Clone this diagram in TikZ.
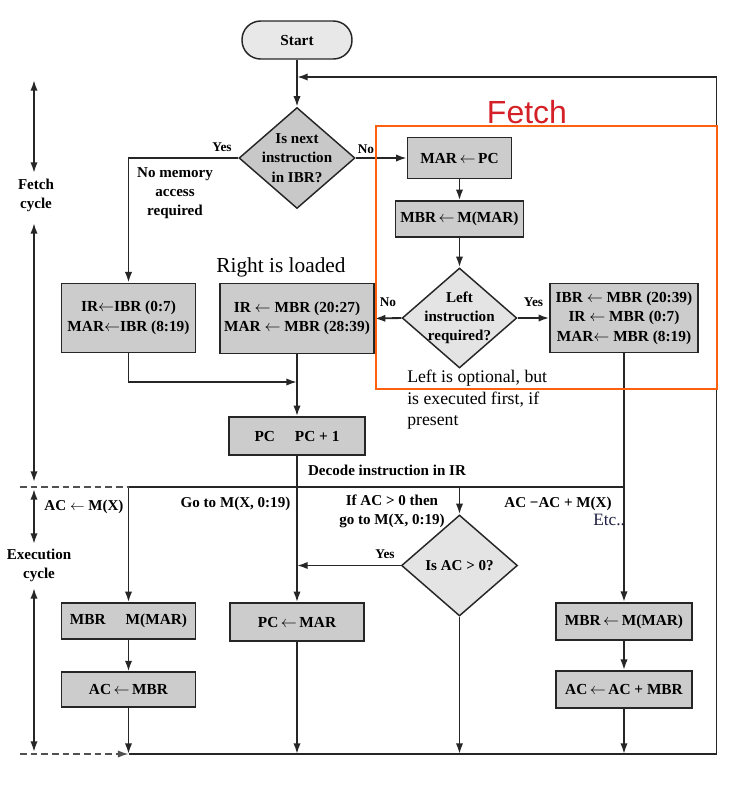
\documentclass[tikz,border=0pt]{standalone}
\usepackage{fontspec}
\setmainfont{Liberation Serif}
\newfontfamily\fetchfont{Liberation Sans}
\usetikzlibrary{arrows.meta,shapes.geometric}
\definecolor{boxgray}{HTML}{CCCCCC}
\definecolor{dgray}{HTML}{C8C8C8}
\definecolor{lgray}{HTML}{E4E4E4}
\definecolor{startgray}{HTML}{E8E8E8}
\definecolor{linec}{HTML}{262626}
\definecolor{fetchred}{RGB}{212,32,39}
\definecolor{orng}{RGB}{255,96,16}
\definecolor{etcblue}{HTML}{1C1C40}
\begin{document}
\begin{tikzpicture}[x=0.75pt,y=-0.75pt,
 conn/.style={draw=linec,line width=1.4pt},
 arr/.style={conn,-{Latex[length=8pt,width=5.5pt]}},
 darr/.style={conn,{Latex[length=8pt,width=5.5pt]}-{Latex[length=8pt,width=5.5pt]}},
 dashline/.style={draw=linec!80,line width=1.1pt,dash pattern=on 5pt off 3pt},
 box/.style={draw=linec,line width=1.1pt,fill=boxgray,inner sep=2pt,align=center,font=\bfseries\fontsize{11.5}{14.6}\selectfont},
 dia/.style={diamond,draw=linec,line width=1.1pt,inner sep=0pt},
 lbl/.style={inner sep=0pt,align=center,font=\bfseries\fontsize{11.3}{14.4}\selectfont},
 slbl/.style={inner sep=0pt,font=\bfseries\fontsize{10}{12}\selectfont},
 note/.style={inner sep=0pt,align=left},
]
\useasboundingbox (0,0) rectangle (746,794);

% nodes
\node[box,fill=startgray,rounded corners=14pt,minimum width=82.5pt,minimum height=28.5pt] (start) at (297,40) {Start};
\node[dia,fill=dgray,minimum width=87pt,minimum height=75.75pt] (d1) at (297,158) {};
\node[lbl] (d1t) at (297,158) {Is next\\instruction\\in IBR?};
\node[box,minimum width=78pt,minimum height=31pt] (marpc) at (459.5,158) {MAR\,$\leftarrow$\,PC};
\node[box,minimum width=96pt,minimum height=27pt] (mbrm) at (459.5,219) {MBR\,$\leftarrow$\,M(MAR)};
\node[dia,fill=lgray,minimum width=86pt,minimum height=75pt] (d2) at (459.5,318) {};
\node[lbl] (d2t) at (459.5,318) {Left\\instruction\\required?};
\node[box,minimum width=111pt,minimum height=52pt] (rbox) at (624,318) {IBR $\leftarrow$ MBR (20:39)\\IR $\leftarrow$ MBR (0:7)\\MAR$\leftarrow$ MBR (8:19)};
\node[box,minimum width=100.5pt,minimum height=52pt] (b1) at (128.5,318) {IR$\leftarrow$IBR (0:7)\\MAR$\leftarrow$IBR (8:19)};
\node[box,minimum width=115.5pt,minimum height=52.5pt] (b2) at (297,318.5) {IR $\leftarrow$ MBR (20:27)\\MAR $\leftarrow$ MBR (28:39)};
\node[box,minimum width=102pt,minimum height=28.5pt] (pc) at (297,436) {PC\hspace{1.3em}PC + 1};
\node[box,minimum width=100.5pt,minimum height=27pt] (lm) at (128.5,621) {MBR\hspace{1.3em}M(MAR)};
\node[box,minimum width=100.5pt,minimum height=26pt] (lac) at (128.5,689.5) {AC\,$\leftarrow$\,MBR};
\node[box,minimum width=100.5pt,minimum height=28.5pt] (pcmar) at (297,622) {PC\,$\leftarrow$\,MAR};
\node[dia,fill=lgray,minimum width=87pt,minimum height=75.75pt] (d3) at (459.5,565.5) {};
\node[lbl] (d3t) at (459.5,565.5) {Is AC > 0?};
\node[box,minimum width=102pt,minimum height=28pt] (rm) at (624,621.5) {MBR\,$\leftarrow$\,M(MAR)};
\node[box,minimum width=102pt,minimum height=28pt] (rac) at (624,689.5) {AC\,$\leftarrow$\,AC + MBR};

% coordinates
\coordinate (loopTR) at (716.5,77);
\coordinate (loopBR) at (716.5,754);
\coordinate (join0) at (297,77);
\coordinate (join1) at (297,382);
\coordinate (decL) at (128.5,487);
\coordinate (decR) at (624,487);
\coordinate (decM) at (459.5,487);
\coordinate (yesJ) at (297,565.5);
\coordinate (botL) at (128.5,754);
\coordinate (botM) at (297,754);
\coordinate (botD) at (459.5,754);
\coordinate (botR) at (624,754);
\coordinate (dashT) at (20,487);
\coordinate (dashB) at (20,754);
\coordinate (ax1a) at (34,80);
\coordinate (ax1b) at (34,173);
\coordinate (ax2a) at (34,223);
\coordinate (ax2b) at (34,482);
\coordinate (ax3a) at (34,489);
\coordinate (ax3b) at (34,544);
\coordinate (ax4a) at (34,588);
\coordinate (ax4b) at (34,752);

% connectors
\draw[arr] (start) -- (d1);
\draw[arr] (botL) -- (loopBR) -- (loopTR) -- (join0);
\draw[arr] (d1.west) -| (b1.north);
\draw[arr] (d1.east) -- (marpc.west);
\draw[arr] (marpc) -- (mbrm);
\draw[arr] (mbrm) -- (d2);
\draw[arr] (d2.west) -- (b2.east);
\draw[arr] (d2.east) -- (rbox.west);
\draw[arr] (b1.south) |- (join1);
\draw[arr] (b2) -- (pc);
\draw[arr] (pc) -- (pcmar);
\draw[arr] (rbox) -- (rm);
\draw[conn] (decL) -- (decR);
\draw[arr] (decL) -- (lm);
\draw[arr] (decM) -- (d3);
\draw[arr] (d3.west) -- (yesJ);
\draw[arr] (lm) -- (lac);
\draw[arr] (lac) -- (botL);
\draw[arr] (pcmar) -- (botM);
\draw[arr] (d3) -- (botD);
\draw[arr] (rm) -- (rac);
\draw[arr] (rac) -- (botR);
\draw[dashline] (dashT) -- (decL);
\draw[dashline,-{Latex[length=8pt,width=5.5pt]}] (dashB) -- (botL);
\draw[darr] (ax1a) -- (ax1b);
\draw[darr] (ax2a) -- (ax2b);
\draw[darr] (ax3a) -- (ax3b);
\draw[darr] (ax4a) -- (ax4b);

% labels
\node[slbl] (yes1) at (222,147) {Yes};
\node[slbl] (no1) at (366,149) {No};
\node[lbl] (nomem) at (175,193) {No memory\\access\\required};
\node[slbl] (no2) at (388,302) {No};
\node[slbl] (yes2) at (533.5,302) {Yes};
\node[lbl] (fcyc) at (36,195) {Fetch\\cycle};
\node[lbl] (ecyc) at (39,565) {Execution\\cycle};
\node[lbl,anchor=base] (decode) at (387,475) {Decode instruction in IR};
\node[lbl,anchor=base] (acmx) at (84,510) {AC $\leftarrow$ M(X)};
\node[lbl,anchor=base] (goto) at (235.5,507) {Go to M(X, 0:19)};
\node[lbl] (ifac) at (392,511) {If AC > 0 then\\go to M(X, 0:19)};
\node[slbl] (yes3) at (385,554) {Yes};
\node[lbl,anchor=base] (acadd) at (558,507) {AC −AC + M(X)};
\node[inner sep=0pt,anchor=base,font=\fontsize{16}{19}\selectfont] (right) at (281,272) {Right is loaded};
\node[note,anchor=north west,font=\fontsize{13.3}{16}\selectfont] (leftopt) at (407,370) {Left is optional, but\\is executed first, if\\present};
\node[inner sep=0pt,anchor=base west,text=etcblue,font=\fontsize{13}{15}\selectfont] (etc) at (593,525) {Etc..};
\node[inner sep=0pt,anchor=base,text=fetchred,font=\fetchfont\fontsize{24}{28}\selectfont] (fetch) at (527,123) {Fetch};

% fetch frame
\draw[draw=orng,line width=1.5pt] (376,125.5) rectangle (717,388.5);
\end{tikzpicture}
\end{document}
